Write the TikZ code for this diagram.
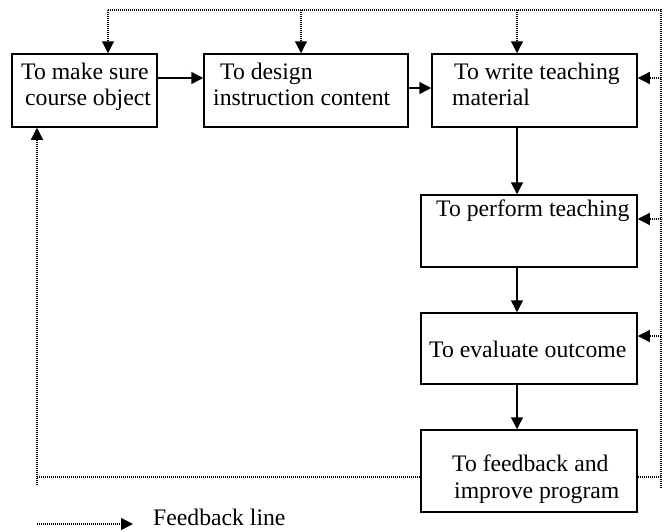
\documentclass[tikz,border=0pt]{standalone}
\usepackage{fontspec}
\setmainfont{Liberation Serif}
\usetikzlibrary{arrows.meta}
\begin{document}
\begin{tikzpicture}[x=1pt,y=-1pt,
  box/.style={draw,line width=1.5pt,minimum width=#1,inner sep=0pt},
  txt/.style={anchor=base west,inner sep=0pt,font=\fontsize{23.7}{27}\selectfont},
  arr/.style={line width=1.5pt,-{Triangle[length=12pt,width=12pt]}},
  fb/.style={line width=1.3pt,dash pattern=on 1pt off 1pt},
  fbarr/.style={fb,-{Triangle[length=12pt,width=12pt]}}]
\useasboundingbox (0,0) rectangle (665,531);
% boxes
\node[box=145pt,minimum height=73pt] (b1) at (84.5,90.5) {};
\node[box=204pt,minimum height=73pt] (b2) at (306,90.5) {};
\node[box=205pt,minimum height=73pt] (b3) at (534.5,90.5) {};
\node[box=216pt,minimum height=72pt] (b4) at (529,231) {};
\node[box=216pt,minimum height=71pt] (b5) at (529,348.5) {};
\node[box=216pt,minimum height=82pt] (b6) at (529,471) {};
% texts
\node[txt] (t1a) at (21,79) {To make sure};
\node[txt] (t1b) at (25,105) {course object};
\node[txt] (t2a) at (220,79) {To design};
\node[txt] (t2b) at (213,105) {instruction content};
\node[txt] (t3a) at (454,79) {To write teaching};
\node[txt] (t3b) at (452,105) {material};
\node[txt] (t4) at (436,216) {To perform teaching};
\node[txt] (t5) at (429,357) {To evaluate outcome};
\node[txt] (t6a) at (452,471) {To feedback and};
\node[txt] (t6b) at (454,498) {improve program};
% main flow
\draw[arr] (b1.east |- 0,78) -- (b2.west |- 0,78);
\draw[arr] (b2.east |- 0,88) -- (b3.west |- 0,88);
\draw[arr] (b3.south -| 517,0) -- (b4.north -| 517,0);
\draw[arr] (b4.south -| 517,0) -- (b5.north -| 517,0);
\draw[arr] (b5.south -| 517,0) -- (b6.north -| 517,0);
% feedback lines
\coordinate (tl) at (108,10);
\coordinate (tr) at (661,10);
\coordinate (rb) at (661,488);
\coordinate (lb) at (37,485);
\coordinate (lc) at (37,477);
\coordinate (rc) at (661,477);
\draw[fb] (tl) -- (tr) -- (rb);
\draw[fbarr] (tl) -- (b1.north -| tl);
\draw[fbarr] (301,10) -- (b2.north -| 301,0);
\draw[fbarr] (517,10) -- (b3.north -| 517,0);
\draw[fbarr] (661,78) -- (b3.east |- 0,78);
\draw[fbarr] (661,219) -- (b4.east |- 0,219);
\draw[fbarr] (661,336) -- (b5.east |- 0,336);
\draw[fb] (b6.west |- lc) -- (lc);
\draw[fb] (b6.east |- rc) -- (rc);
\draw[fbarr] (lb) -- (lc) -- (b1.south -| lc);
% legend
\coordinate (l1) at (37,524);
\coordinate (l2) at (133,524);
\draw[fbarr] (l1) -- (l2);
\node[txt] (leg) at (153,525) {Feedback line};
\end{tikzpicture}
\end{document}
